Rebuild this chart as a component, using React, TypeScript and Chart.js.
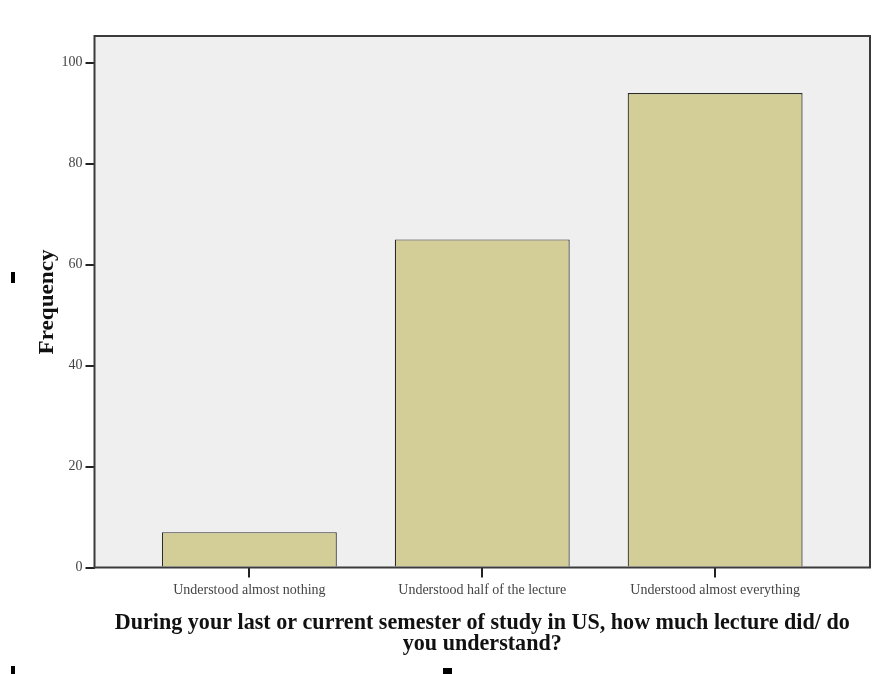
import React, { useEffect, useRef } from "react";
import { Chart, registerables } from "chart.js";

Chart.register(...registerables);

const categories = [
  "Understood almost nothing",
  "Understood half of the lecture",
  "Understood almost everything",
];
const frequencies = [7, 65, 94];
const yTickValues = [0, 20, 40, 60, 80, 100];
const yTitle = "Frequency";
const xTitleLines = [
  "During your last or current semester of study in US, how much lecture did/ do",
  "you understand?",
];

const framePlugin = {
  id: "framePlugin",
  beforeDraw(chart: any) {
    const { ctx, chartArea: a } = chart;
    ctx.save();
    ctx.fillStyle = "#EFEFEF";
    ctx.fillRect(a.left, a.top, a.right - a.left, a.bottom - a.top);
    ctx.restore();
  },
  afterDraw(chart: any) {
    const { ctx, chartArea: a } = chart;
    ctx.save();
    ctx.strokeStyle = "#3a3a3a";
    ctx.lineWidth = 2;
    ctx.strokeRect(a.left, a.top, a.right - a.left, a.bottom - a.top);

    ctx.fillStyle = "#111";
    ctx.textAlign = "center";

    // Y axis title
    ctx.font = "bold 21px 'Liberation Serif'";
    ctx.textBaseline = "middle";
    const yw = ctx.measureText(yTitle).width;
    ctx.save();
    ctx.translate(48, 302);
    ctx.rotate(-Math.PI / 2);
    ctx.scale(105 / yw, 1);
    ctx.fillText(yTitle, 0, 0);
    ctx.restore();

    // X axis title
    const cx = (a.left + a.right) / 2;
    ctx.font = "bold 23px 'Liberation Serif'";
    ctx.textBaseline = "alphabetic";
    const xw = ctx.measureText(xTitleLines[0]).width;
    const sx = 735 / xw;
    ctx.save();
    ctx.translate(cx, 0);
    ctx.scale(sx, 1);
    ctx.fillText(xTitleLines[0], 0, 629);
    ctx.fillText(xTitleLines[1], 0, 650);
    ctx.restore();

    ctx.fillStyle = "#000";
    ctx.fillRect(11, 272, 4, 11);
    ctx.fillRect(11, 666, 4, 8);
    ctx.fillRect(443, 668, 9, 6);
    ctx.restore();
  },
};

export default function App() {
  const ref = useRef<HTMLCanvasElement | null>(null);

  useEffect(() => {
    document.body.style.margin = "0";
    const canvas = ref.current;
    if (!canvas) return;
    const chart = new Chart(canvas, {
      type: "bar",
      data: {
        datasets: [
          {
            data: categories.map((_, i) => ({ x: i, y: frequencies[i] })),
            backgroundColor: "#D3CE97",
            borderColor: "#2b2b2b",
            borderWidth: 1.2,
            barPercentage: 0.751,
            categoryPercentage: 1,
          },
        ],
      },
      options: {
        animation: false,
        responsive: false,
        devicePixelRatio: 1,
        layout: { padding: { top: 36, right: 10, left: 0, bottom: 0 } },
        plugins: { legend: { display: false }, tooltip: { enabled: false } },
        scales: {
          x: {
            type: "linear",
            offset: false,
            min: -0.665,
            max: 2.665,
            afterBuildTicks: (s: any) => {
              s.ticks = categories.map((_, i) => ({ value: i }));
            },
            afterFit: (s: any) => {
              s.height = 106.5;
            },
            border: { display: false },
            grid: {
              offset: false,
              drawOnChartArea: false,
              tickLength: 10,
              color: "#222",
              lineWidth: 2,
            },
            ticks: {
              autoSkip: false,
              maxRotation: 0,
              padding: 4,
              color: "#444",
              font: { family: "'Liberation Serif'", size: 14 },
              callback: (v: any) => categories[v] ?? "",
            },
          },
          y: {
            type: "linear",
            min: 0,
            max: 105.3,
            afterBuildTicks: (s: any) => {
              s.ticks = yTickValues.map((v) => ({ value: v }));
            },
            afterFit: (s: any) => {
              s.width = 94.5;
            },
            border: { display: false },
            grid: {
              drawOnChartArea: false,
              tickLength: 9,
              color: "#222",
              lineWidth: 2,
            },
            ticks: {
              padding: 3,
              color: "#444",
              font: { family: "'Liberation Serif'", size: 14 },
            },
          },
        },
      },
      plugins: [framePlugin],
    } as any);
    return () => chart.destroy();
  }, []);

  return <canvas ref={ref} width={880} height={674} style={{ display: "block" }} />;
}
